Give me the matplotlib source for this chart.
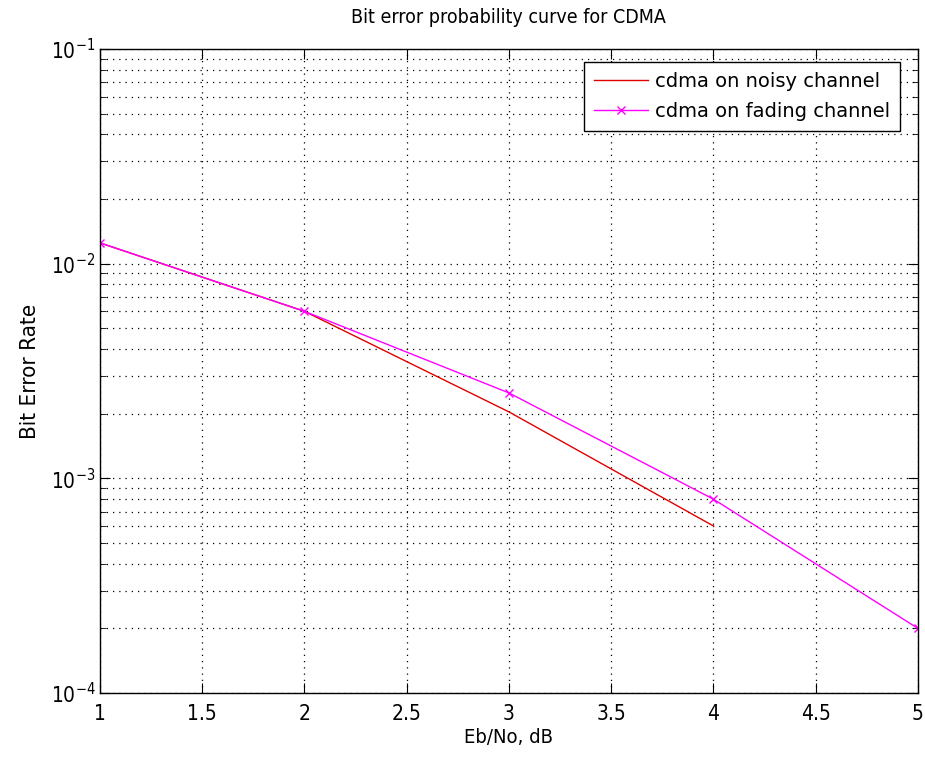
import matplotlib.pyplot as plt
from matplotlib.ticker import LogLocator, NullFormatter

ebno_noisy = [1, 2, 3, 4]
ber_noisy = [0.0125, 0.006, 0.00204, 0.0006]

ebno_fading = [1, 2, 3, 4, 5]
ber_fading = [0.0125, 0.006, 0.0025, 0.0008, 0.0002]

x_ticks = [1, 1.5, 2, 2.5, 3, 3.5, 4, 4.5, 5]

plt.rcParams["font.family"] = ["DejaVu Sans", "Liberation Sans"]
plt.rcParams["font.stretch"] = "condensed"

fig = plt.figure(figsize=(9.25, 7.63), dpi=100)
ax = fig.add_axes([0.108, 0.0917, 0.8844, 0.8441])

ax.semilogy(ebno_noisy, ber_noisy, color="#e00000", linewidth=1.0,
            label="cdma on noisy channel")
ax.semilogy(ebno_fading, ber_fading, color="#ff00ff", linewidth=1.0,
            marker="x", markersize=6, label="cdma on fading channel")

ax.set_xlim(1, 5)
ax.set_ylim(1e-4, 1e-1)
ax.set_xticks(x_ticks)
ax.set_xticklabels([f"{v:g}" for v in x_ticks])
ax.yaxis.set_major_locator(LogLocator(base=10, numticks=10))
ax.yaxis.set_minor_locator(LogLocator(base=10, subs=range(2, 10), numticks=20))
ax.yaxis.set_minor_formatter(NullFormatter())

ax.grid(True, which="major", color="black", linestyle=(0, (1, 4)), linewidth=0.9)
ax.grid(True, which="minor", axis="y", color="black", linestyle=(0, (1, 4)), linewidth=0.9)

ax.tick_params(which="both", direction="in", top=True, right=True, labelsize=15)
ax.tick_params(axis="x", pad=8)
ax.tick_params(axis="y", pad=3)
ax.tick_params(which="major", length=7)
ax.tick_params(which="minor", length=4)
for s in ax.spines.values():
    s.set_linewidth(1.0)

ax.set_title("Bit error probability curve for CDMA", fontsize=14, pad=19)
ax.set_xlabel("Eb/No, dB", fontsize=14.5, labelpad=3)
ax.set_ylabel("Bit Error Rate", fontsize=16, labelpad=8)

leg = ax.legend(loc="upper right", bbox_to_anchor=(0.978, 0.98), borderaxespad=0,
                prop={"family": "DejaVu Sans", "stretch": "normal", "size": 14},
                fancybox=False, framealpha=1, edgecolor="black",
                handlelength=2.8, handletextpad=0.35, labelspacing=0.6, borderpad=0.5)
leg.get_frame().set_linewidth(1.0)

fig.savefig("out.png", dpi=100)
